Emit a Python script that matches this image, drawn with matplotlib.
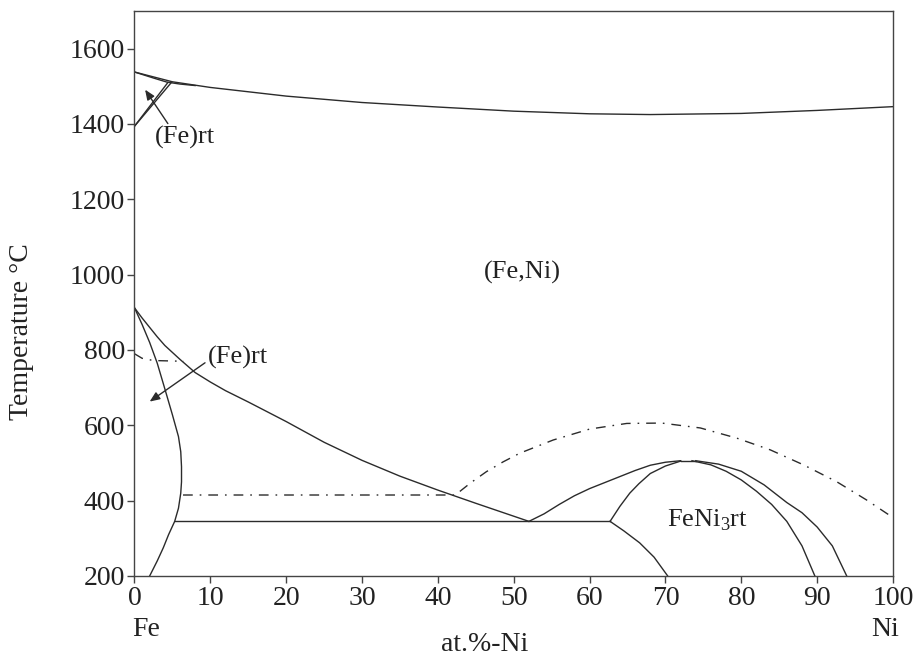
import numpy as np
import matplotlib.pyplot as plt

plt.rcParams['font.family'] = ['Liberation Serif', 'DejaVu Serif']
plt.rcParams['mathtext.fontset'] = 'custom'
plt.rcParams['mathtext.rm'] = 'Liberation Serif'

# phase boundaries: (at.% Ni, temperature C)
liq_x = [0, 5, 10, 20, 30, 40, 50, 60, 68, 80, 90, 100]
liq_t = [1538, 1512, 1497, 1474, 1457, 1445, 1434, 1427, 1425, 1428, 1436, 1446]
sol_x = [0, 2.5, 4.3, 6, 8]
sol_t = [1538, 1522, 1511, 1506, 1502]
delta1_x = [0, 4.4]
delta1_t = [1394, 1510]
delta2_x = [0, 4.9]
delta2_t = [1394, 1511]

a3_x = [0, 1, 2, 3, 4, 5, 5.8, 6.1, 6.2, 6.2, 6.1, 5.8, 5.3, 4.5, 3.8, 3.0, 2.0]
a3_t = [912, 868, 820, 765, 697, 628, 570, 530, 490, 450, 420, 380, 345, 310, 275, 240, 200]
g_x = [0, 1, 2, 3, 4, 6, 8, 10, 12, 15, 20, 25, 30, 35, 40, 45, 52]
g_t = [912, 885, 860, 835, 812, 775, 740, 715, 692, 662, 610, 555, 507, 465, 428, 393, 345]
eut_x = [5.3, 62.7]
eut_t = [345, 345]

v_x = [52, 54, 56, 58, 60, 62, 64, 66, 68, 70, 72]
v_t = [345, 365, 390, 413, 432, 448, 464, 480, 494, 502, 506]
j_x = [62.7, 64, 65.3, 66.5, 68, 70, 72]
j_t = [345, 385, 420, 445, 472, 492, 505]
jd_x = [62.7, 64.5, 66.6, 68.5, 70.3]
jd_t = [345, 320, 288, 250, 200]
top_x = [72, 74]
top_t = [506, 506]
in_x = [73.5, 76, 78, 80, 82, 84, 86, 88, 89.7]
in_t = [506, 495, 478, 455, 425, 390, 345, 280, 200]
out_x = [74, 77, 80, 83, 86, 88, 90, 92, 93.9]
out_t = [506, 497, 478, 442, 395, 368, 330, 280, 200]

curie1_x = [0, 1, 2.5, 6.5]
curie1_t = [790, 778, 772, 770]
curie2_x = [6.4, 42.3, 44.3, 46.4, 48.6, 50.8, 55.2, 60, 64.9, 69.5, 74.6, 79.4, 83.8, 88.2, 92.6, 96.5, 100]
curie2_t = [415, 415, 447, 477, 503, 526, 561, 590, 605, 606, 593, 566, 535, 495, 450, 402, 355]

xticks = list(range(0, 101, 10))
yticks = list(range(200, 1601, 200))

fig = plt.figure(figsize=(9.23, 6.57), dpi=100)
ax = fig.add_axes([0.1457, 0.1233, 0.8218, 0.86])

lc = '#2b2b2b'
lw = 1.0
for xs, ts in [(liq_x, liq_t), (sol_x, sol_t), (delta1_x, delta1_t), (delta2_x, delta2_t),
               (a3_x, a3_t), (g_x, g_t), (eut_x, eut_t), (v_x, v_t), (j_x, j_t),
               (jd_x, jd_t), (top_x, top_t), (in_x, in_t), (out_x, out_t)]:
    ax.plot(xs, ts, color=lc, lw=lw, solid_joinstyle='round')

dd = (0, (7, 5, 1.2, 5))
ax.plot(curie1_x, curie1_t, color=lc, lw=lw, linestyle=dd)
ax.plot(curie2_x, curie2_t, color=lc, lw=lw, linestyle=dd)

fs = 20
fa = 19
ax.text(51.1, 1005, '(Fe,Ni)', fontsize=fa, ha='center', va='center', color='#222')
ax.text(2.7, 1363, '(Fe)rt', fontsize=fa, ha='left', va='center', color='#222')
ax.text(9.7, 779, '(Fe)rt', fontsize=fa, ha='left', va='center', color='#222')
ax.text(75.5, 349, r'FeNi$_3$rt', fontsize=fa, ha='center', va='center', color='#222')

arrow = dict(arrowstyle='-|>,head_length=0.6,head_width=0.25', color=lc, lw=1.0,
             shrinkA=0, shrinkB=0)
ax.annotate('', xy=(1.4, 1491), xytext=(4.4, 1401), arrowprops=arrow)
ax.annotate('', xy=(2.0, 663), xytext=(9.3, 766), arrowprops=arrow)

ax.set_xlim(0, 100)
ax.set_ylim(200, 1700)
ax.set_xticks(xticks)
ax.set_yticks(yticks)
ax.tick_params(direction='out', length=5, width=1, color='#444', labelsize=fs,
               labelcolor='#222', pad=2)
for s in ax.spines.values():
    s.set_color('#444')
    s.set_linewidth(1.0)

ax.set_ylabel('Temperature °C', fontsize=fs, color='#222')
ax.yaxis.set_label_coords(-0.132, 0.432)
ax.text(0.462, -0.122, 'at.%-Ni', transform=ax.transAxes, fontsize=fs,
        ha='center', va='center', color='#222')
ax.text(0.015, -0.095, 'Fe', transform=ax.transAxes, fontsize=fs,
        ha='center', va='center', color='#222')
ax.text(0.99, -0.095, 'Ni', transform=ax.transAxes, fontsize=fs,
        ha='center', va='center', color='#222')

fig.savefig('out.png', dpi=100)
